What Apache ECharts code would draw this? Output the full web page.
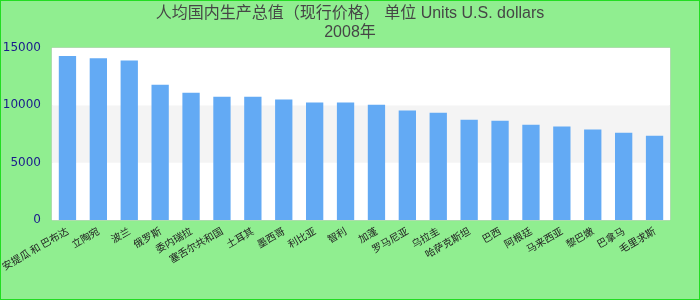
<!DOCTYPE html>
<html>
<head>
<meta charset="utf-8">
<script src="https://cdn.jsdelivr.net/npm/echarts@6/dist/echarts.min.js"></script>
<style>
html,body{margin:0;padding:0;background:#90ee90;}
#c{width:700px;height:300px;box-sizing:border-box;border:1px solid #22dd22;}
</style>
</head>
<body>
<div id="c"></div>
<script>
var categories = ["安提瓜 和 巴布达","立陶宛","波兰","俄罗斯","委内瑞拉","塞舌尔共和国","土耳其","墨西哥","利比亚","智利","加蓬","罗马尼亚","乌拉圭","哈萨克斯坦","巴西","阿根廷","马来西亚","黎巴嫩","巴拿马","毛里求斯"];
var values = [14300,14100,13900,11800,11100,10750,10750,10500,10250,10250,10050,9550,9350,8750,8650,8300,8150,7900,7600,7350];
var titleText = "人均国内生产总值（现行价格） 单位 Units U.S. dollars";
var subtitleText = "2008年";

var chart = echarts.init(document.getElementById('c'), null, {renderer:'canvas'});
chart.setOption({
  backgroundColor: '#90ee90',
  animation: false,
  title: {
    text: titleText,
    subtext: subtitleText,
    left: 'center',
    top: 0,
    itemGap: 3,
    textStyle: {color:'#464646', fontSize:16, fontWeight:'normal', fontFamily:'Liberation Sans, Noto Sans CJK SC, sans-serif'},
    subtextStyle: {color:'#464646', fontSize:16, fontFamily:'Liberation Sans, Noto Sans CJK SC, sans-serif'}
  },
  grid: {left:51, right:29, top:47, bottom:79, outerBoundsMode:'none', containLabel:false, show:true, backgroundColor:'#ffffff', borderColor:'#cccccc', borderWidth:1},
  xAxis: {
    type:'category',
    data: categories,
    axisLine:{show:false},
    axisTick:{show:false},
    axisLabel:{rotate:30, interval:0, color:'#222222', fontSize:10, margin:10, fontFamily:'Noto Sans CJK SC, sans-serif'}
  },
  yAxis: {
    type:'value',
    min:0, max:15000, interval:5000,
    axisLine:{show:false},
    axisTick:{show:false},
    splitLine:{show:false},
    splitArea:{show:true, areaStyle:{color:['#ffffff','#f4f4f4']}},
    axisLabel:{color:'#1a1a8c', fontSize:12, margin:11, fontFamily:'DejaVu Sans, sans-serif', formatter:function(v){return String(v);}}
  },
  series: [{
    type:'bar',
    data: values,
    barWidth:'56%',
    itemStyle:{color:'#63aaf4'}
  }]
});
</script>
</body>
</html>
